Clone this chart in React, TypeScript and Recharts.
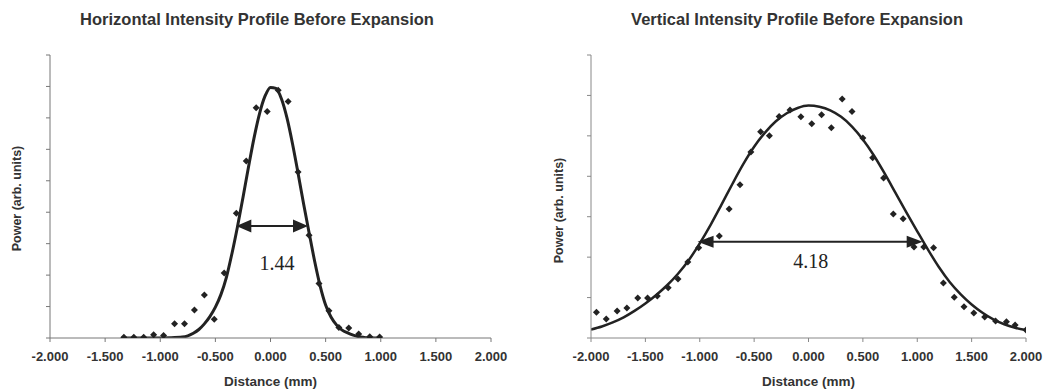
import {
  ComposedChart,
  Line,
  Scatter,
  XAxis,
  YAxis,
  ReferenceLine,
  ReferenceDot,
} from "recharts";

// x axis ticks shared by both panels (mm)
const xTicks = [-2, -1.5, -1, -0.5, 0, 0.5, 1, 1.5, 2];
const hYTicks = [0, 1, 2, 3, 4, 5, 6, 7, 8, 9];
const vYTicks = [0, 1, 2, 3, 4, 5, 6, 7];

// Horizontal profile: measured points
const hPointX = [-1.33, -1.24, -1.15, -1.06, -0.97, -0.87, -0.78, -0.69, -0.6, -0.51, -0.42, -0.31, -0.22, -0.13, -0.03, 0.07, 0.16, 0.25, 0.35, 0.44, 0.53, 0.62, 0.71, 0.8, 0.9, 0.99];
const hPointY = [0.02, 0.02, 0.02, 0.1, 0.08, 0.45, 0.45, 0.89, 1.37, 0.6, 2.07, 3.97, 5.63, 7.32, 7.2, 7.88, 7.52, 5.28, 3.27, 1.73, 0.87, 0.33, 0.32, 0.13, 0.04, 0.03];

// Horizontal profile: fitted curve
const hFitX = [-1.35, -1.1, -0.9, -0.8, -0.75, -0.7, -0.65, -0.6, -0.55, -0.5, -0.45, -0.4, -0.35, -0.3, -0.25, -0.2, -0.15, -0.1, -0.05, 0, 0.05, 0.1, 0.15, 0.2, 0.25, 0.3, 0.35, 0.4, 0.45, 0.5, 0.55, 0.6, 0.65, 0.7, 0.75, 0.8, 0.85, 0.9, 1.0];
const hFitY = [0, 0, 0.01, 0.03, 0.07, 0.15, 0.27, 0.45, 0.68, 0.98, 1.38, 1.93, 2.68, 3.53, 4.46, 5.43, 6.35, 7.13, 7.69, 7.97, 7.94, 7.6, 6.99, 6.17, 5.24, 4.27, 3.35, 2.45, 1.66, 1.05, 0.66, 0.41, 0.25, 0.16, 0.09, 0.04, 0.02, 0.01, 0];

// Vertical profile: measured points
const vPointX = [-1.95, -1.86, -1.76, -1.67, -1.57, -1.48, -1.39, -1.29, -1.2, -1.11, -1.01, -0.92, -0.82, -0.73, -0.63, -0.53, -0.44, -0.36, -0.27, -0.17, -0.07, 0.03, 0.12, 0.21, 0.31, 0.4, 0.5, 0.59, 0.69, 0.78, 0.87, 0.97, 1.06, 1.15, 1.24, 1.34, 1.43, 1.52, 1.62, 1.72, 1.82, 1.9, 2.0];
const vPointY = [0.64, 0.47, 0.67, 0.74, 0.99, 0.99, 1.04, 1.24, 1.46, 1.88, 2.23, 2.4, 2.52, 3.19, 3.79, 4.6, 5.1, 5.0, 5.48, 5.64, 5.47, 5.3, 5.52, 5.2, 5.91, 5.6, 4.95, 4.46, 3.96, 3.07, 2.95, 2.25, 2.25, 2.23, 1.36, 1.01, 0.77, 0.62, 0.52, 0.42, 0.4, 0.32, 0.2];

// Vertical profile: fitted curve
const vFitX = [-2.0, -1.9, -1.8, -1.7, -1.6, -1.5, -1.4, -1.3, -1.2, -1.1, -1.0, -0.9, -0.8, -0.7, -0.6, -0.5, -0.4, -0.3, -0.2, -0.1, 0.0, 0.1, 0.2, 0.3, 0.4, 0.5, 0.6, 0.7, 0.8, 0.9, 1.0, 1.1, 1.2, 1.3, 1.4, 1.5, 1.6, 1.7, 1.8, 1.9, 2.0];
const vFitY = [0.21, 0.285, 0.385, 0.51, 0.67, 0.855, 1.065, 1.305, 1.59, 1.93, 2.34, 2.8, 3.3, 3.81, 4.3, 4.73, 5.08, 5.36, 5.56, 5.69, 5.75, 5.72, 5.63, 5.47, 5.23, 4.91, 4.52, 4.07, 3.59, 3.11, 2.64, 2.18, 1.75, 1.38, 1.08, 0.83, 0.625, 0.46, 0.34, 0.255, 0.195];

const zip = (xs: number[], ys: number[]) => xs.map((x, i) => ({ x, y: ys[i] }));

const hPoints = zip(hPointX, hPointY);
const hFit = zip(hFitX, hFitY);
const vPoints = zip(vPointX, vPointY);
const vFit = zip(vFitX, vFitY);

const sans = "'Liberation Sans', Arial, sans-serif";
const serif = "'Liberation Serif', 'Times New Roman', serif";
const ink = "#222";
const textCol = "#333";

const Diamond = (props: any) => {
  const { cx, cy } = props;
  const r = 3.5;
  return (
    <polygon
      points={`${cx},${cy - r} ${cx + r},${cy} ${cx},${cy + r} ${cx - r},${cy}`}
      fill={ink}
    />
  );
};

const makeArrow = (len: number, half: number) => (p: any) => {
  const x1 = Math.min(p.x1, p.x2);
  const x2 = Math.max(p.x1, p.x2);
  const y = p.y1;
  return (
    <g>
      <line x1={x1 + len - 2} y1={y} x2={x2 - len + 2} y2={y} stroke={ink} strokeWidth={2} />
      <polygon points={`${x1},${y} ${x1 + len},${y - half} ${x1 + len},${y + half}`} fill={ink} />
      <polygon points={`${x2},${y} ${x2 - len},${y - half} ${x2 - len},${y + half}`} fill={ink} />
    </g>
  );
};

const tickStyle = { fill: textCol, fontSize: 13, fontWeight: "bold", fontFamily: sans };
const noLabel = () => "";

const titleStyle = (left: number, width: number): React.CSSProperties => ({
  position: "absolute",
  top: 10,
  left,
  width,
  textAlign: "center",
  fontFamily: sans,
  fontWeight: "bold",
  fontSize: 16.5,
  color: textCol,
  whiteSpace: "nowrap",
});

export default function App() {
  return (
    <div style={{ position: "absolute", left: 0, top: 0, width: 1048, height: 391, background: "#fff" }}>
      <div style={titleStyle(0, 514)}>Horizontal Intensity Profile Before Expansion</div>
      <div style={titleStyle(524, 546)}>Vertical Intensity Profile Before Expansion</div>

      {/* Left panel */}
      <div style={{ position: "absolute", left: 0, top: 0 }}>
        <ComposedChart width={524} height={391} margin={{ top: 55, right: 33, bottom: 0, left: 0 }}>
          <XAxis
            dataKey="x"
            type="number"
            domain={[-2, 2]}
            ticks={xTicks}
            allowDataOverflow
            tickFormatter={(v: number) => v.toFixed(3)}
            tick={tickStyle}
            tickSize={4}
            tickMargin={10}
            height={53}
            stroke="#777"
            label={{ value: "Distance (mm)", position: "insideBottom", offset: 5, fill: textCol, fontSize: 13.5, fontWeight: "bold", fontFamily: sans }}
          />
          <YAxis
            type="number"
            domain={[0, 9]}
            ticks={hYTicks}
            allowDataOverflow
            tickFormatter={noLabel}
            tick={tickStyle}
            tickSize={4}
            width={50}
            stroke="#777"
            label={{ value: "Power (arb. units)", angle: -90, position: "insideLeft", offset: 17, style: { textAnchor: "middle" }, dy: 2, fill: textCol, fontSize: 12.5, fontWeight: "bold", fontFamily: sans }}
          />
          <Scatter data={hPoints} dataKey="y" shape={Diamond} isAnimationActive={false} />
          <Line data={hFit} dataKey="y" type="monotone" stroke={ink} strokeWidth={3} dot={false} activeDot={false} isAnimationActive={false} />
          <ReferenceLine segment={[{ x: -0.31, y: 3.56 }, { x: 0.34, y: 3.56 }]} shape={makeArrow(15, 6.5)} />
          <ReferenceDot x={0.06} y={2.4} r={0} fill="none" stroke="none" label={{ value: "1.44", position: "center", fill: ink, fontSize: 20, fontFamily: serif }} />
        </ComposedChart>
      </div>

      {/* Right panel */}
      <div style={{ position: "absolute", left: 524, top: 0 }}>
        <ComposedChart width={524} height={391} margin={{ top: 55, right: 22, bottom: 0, left: 17 }}>
          <XAxis
            dataKey="x"
            type="number"
            domain={[-2, 2]}
            ticks={xTicks}
            allowDataOverflow
            tickFormatter={(v: number) => v.toFixed(3)}
            tick={tickStyle}
            tickSize={4}
            tickMargin={10}
            height={53}
            stroke="#888"
            label={{ value: "Distance (mm)", position: "insideBottom", offset: 5, fill: textCol, fontSize: 13.5, fontWeight: "bold", fontFamily: sans }}
          />
          <YAxis
            type="number"
            domain={[0, 7]}
            ticks={vYTicks}
            allowDataOverflow
            tickFormatter={noLabel}
            tick={tickStyle}
            tickSize={4}
            width={50}
            stroke="#888"
            label={{ value: "Power (arb. units)", angle: -90, position: "insideLeft", offset: 18, style: { textAnchor: "middle" }, dy: 14, fill: textCol, fontSize: 12.5, fontWeight: "bold", fontFamily: sans }}
          />
          <Scatter data={vPoints} dataKey="y" shape={Diamond} isAnimationActive={false} />
          <Line data={vFit} dataKey="y" type="monotone" stroke={ink} strokeWidth={2.5} dot={false} activeDot={false} isAnimationActive={false} />
          <ReferenceLine segment={[{ x: -1.02, y: 2.38 }, { x: 1.05, y: 2.38 }]} shape={makeArrow(16, 6)} />
          <ReferenceDot x={0.02} y={1.9} r={0} fill="none" stroke="none" label={{ value: "4.18", position: "center", fill: ink, fontSize: 20, fontFamily: serif }} />
        </ComposedChart>
      </div>
    </div>
  );
}
